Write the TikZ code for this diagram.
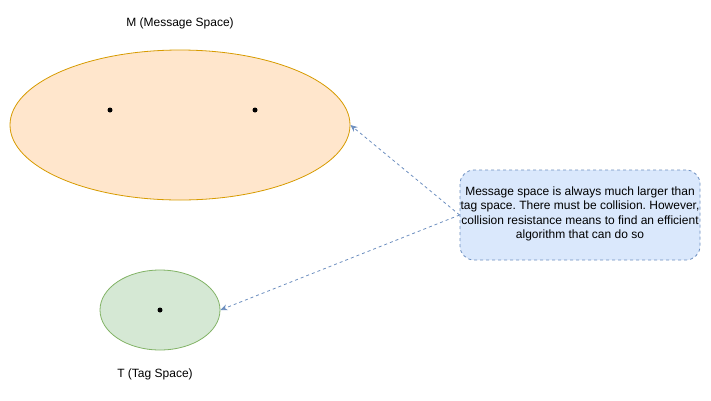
\documentclass[tikz,border=0pt]{standalone}
\usepackage{fontspec}
\setmainfont{Liberation Sans}
\usetikzlibrary{arrows.meta,shapes.geometric}
\definecolor{ofill}{HTML}{FFE6CC}
\definecolor{odraw}{HTML}{D79B00}
\definecolor{gfill}{HTML}{D5E8D4}
\definecolor{gdraw}{HTML}{82B366}
\definecolor{bfill}{HTML}{DAE8FC}
\definecolor{bdraw}{HTML}{6C8EBF}
\frenchspacing
\tikzset{
  lbl/.style={font=\fontsize{12}{14}\selectfont, inner sep=0},
  dotn/.style={circle, fill=black, inner sep=0, minimum size=5},
  conn/.style={draw=bdraw, dashed, dash pattern=on 3pt off 3pt, line width=0.8pt, -{Stealth[length=7pt,width=6pt]}},
}
\begin{document}
\begin{tikzpicture}[x=1pt,y=-1pt]
\useasboundingbox (0,0) rectangle (711,400);
\node[ellipse, draw=odraw, fill=ofill, line width=0.8pt, minimum width=340, minimum height=150, inner sep=0] (M) at (180,125) {};
\node[ellipse, draw=gdraw, fill=gfill, line width=0.8pt, minimum width=120, minimum height=80, inner sep=0] (T) at (160,310) {};
\node[dotn] (d1) at (110,110) {};
\node[dotn] (d2) at (255,110) {};
\node[dotn] (d3) at (160,310) {};
\node[lbl] (ml) at (180,23) {M (Message Space)};
\node[lbl] (tl) at (155,374) {T (Tag Space)};
\node[draw=bdraw, fill=bfill, dashed, dash pattern=on 3pt off 3pt, line width=0.8pt, rounded corners=14, minimum width=240, minimum height=90] (box) at (580,215) {};
\node[align=center, inner sep=0, font=\fontsize{12}{14.5}\selectfont] (boxtext) at (580,214) {Message space is always much larger than\\tag space. There must be collision. However,\\collision resistance means to find an efficient\\algorithm that can do so};
\draw[conn] (box.west) -- (M.east);
\draw[conn] (box.west) -- (T.east);
\end{tikzpicture}
\end{document}
